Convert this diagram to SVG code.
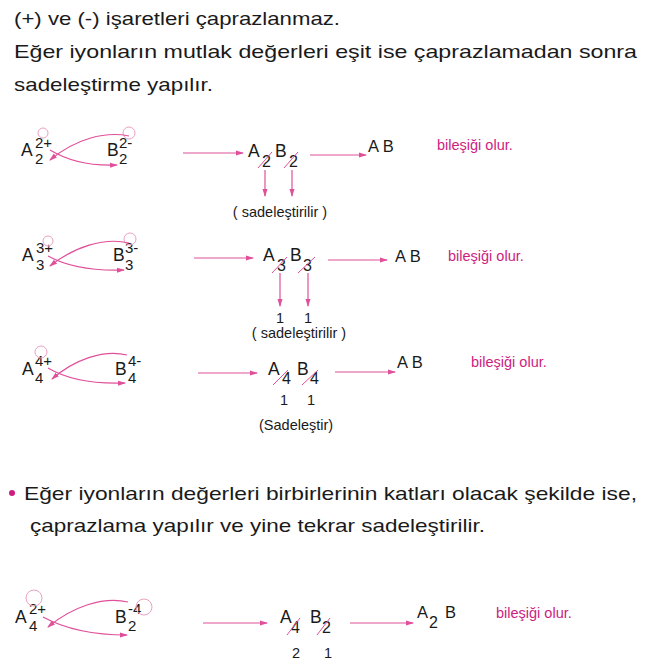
<svg xmlns="http://www.w3.org/2000/svg" width="645" height="670" viewBox="0 0 645 670">
<defs>
<marker id="ah" markerUnits="userSpaceOnUse" markerWidth="8" markerHeight="6" refX="7" refY="3" orient="auto">
<path d="M0,0.5 L8,3 L0,5.5 z" fill="#e0509a"/>
</marker>
<style>
text{font-family:"Liberation Sans",Arial,sans-serif;fill:#1a1a1a}
.h{font-size:19px}
.big{font-size:17.5px}
.s{font-size:15px}
.m{font-size:16px}
.ab{font-size:16.5px}
.n{font-size:14.5px}
.pk{font-size:14.5px;fill:#cc1d80}
.ar{stroke:#e0509a;stroke-width:1.2;fill:none;marker-end:url(#ah)}
.cr{stroke:#e0509a;stroke-width:1;fill:none}
.ci{stroke:#eaa0c4;stroke-width:1;fill:none}
</style>
</defs>
<rect width="645" height="670" fill="#ffffff"/>

<g id="header">
<text class="h" x="14" y="25" textLength="326" lengthAdjust="spacingAndGlyphs">(+) ve (-) işaretleri çaprazlanmaz.</text>
<text class="h" x="14" y="58" textLength="623" lengthAdjust="spacingAndGlyphs">Eğer iyonların mutlak değerleri eşit ise çaprazlamadan sonra</text>
<text class="h" x="14" y="91" textLength="199" lengthAdjust="spacingAndGlyphs">sadeleştirme yapılır.</text>
</g>

<g id="row1-ions">
<text class="big" x="21" y="156">A</text>
<text class="s" x="35" y="148">2+</text>
<text class="s" x="35" y="164">2</text>
<text class="big" x="107" y="156">B</text>
<text class="s" x="119" y="148">2-</text>
<text class="s" x="119" y="164">2</text>
<circle class="ci" cx="43" cy="133" r="5"/>
<circle class="ci" cx="129" cy="133" r="6"/>
</g>
<g id="row1-formula">
<text class="big" x="248" y="157">A</text>
<text class="m" x="262" y="167">2</text>
<text class="big" x="275" y="157">B</text>
<text class="m" x="289" y="167">2</text>
<text class="n" x="280" y="217" text-anchor="middle">( sadeleştirilir )</text>
</g>
<g id="row1-result">
<text class="ab" x="368" y="152">A B</text>
<text class="pk" x="437" y="150">bileşiği olur.</text>
</g>

<g id="row2-ions">
<text class="big" x="22" y="261">A</text>
<text class="s" x="36" y="253">3+</text>
<text class="s" x="36" y="270">3</text>
<text class="big" x="113" y="261">B</text>
<text class="s" x="125" y="253">3-</text>
<text class="s" x="125" y="270">3</text>
<circle class="ci" cx="48" cy="241" r="5"/>
<circle class="ci" cx="130" cy="239" r="6"/>
</g>
<g id="row2-formula">
<text class="big" x="263" y="261">A</text>
<text class="m" x="277" y="271">3</text>
<text class="big" x="290" y="261">B</text>
<text class="m" x="303" y="271">3</text>
<text class="n" x="280" y="323" text-anchor="middle">1</text>
<text class="n" x="308" y="323" text-anchor="middle">1</text>
<text class="n" x="299" y="338" text-anchor="middle">( sadeleştirilir )</text>
</g>
<g id="row2-result">
<text class="ab" x="395" y="262">A B</text>
<text class="pk" x="448" y="261">bileşiği olur.</text>
</g>

<g id="row3-ions">
<text class="big" x="22" y="375">A</text>
<text class="s" x="35" y="366">4+</text>
<text class="s" x="35" y="383">4</text>
<text class="big" x="115" y="375">B</text>
<text class="s" x="128" y="366">4-</text>
<text class="s" x="128" y="383">4</text>
<circle class="ci" cx="41" cy="352" r="6"/>
</g>
<g id="row3-formula">
<text class="big" x="268" y="375">A</text>
<text class="m" x="282" y="384">4</text>
<text class="big" x="297" y="375">B</text>
<text class="m" x="310" y="384">4</text>
<text class="n" x="284" y="405" text-anchor="middle">1</text>
<text class="n" x="311" y="405" text-anchor="middle">1</text>
<text class="n" x="259" y="430">(Sadeleştir)</text>
</g>
<g id="row3-result">
<text class="ab" x="397" y="368">A B</text>
<text class="pk" x="471" y="367">bileşiği olur.</text>
</g>

<g id="bullet">
<circle cx="12" cy="493" r="3" fill="#cc1d80"/>
<text class="h" x="24" y="500" textLength="613" lengthAdjust="spacingAndGlyphs">Eğer iyonların değerleri birbirlerinin katları olacak şekilde ise,</text>
<text class="h" x="30" y="532" textLength="455" lengthAdjust="spacingAndGlyphs">çaprazlama yapılır ve yine tekrar sadeleştirilir.</text>
</g>

<g id="row4-ions">
<text class="big" x="15" y="623">A</text>
<text class="s" x="29" y="614">2+</text>
<text class="s" x="29" y="631">4</text>
<text class="big" x="115" y="623">B</text>
<text class="s" x="128" y="614">-4</text>
<text class="s" x="128" y="631">2</text>
<circle class="ci" cx="34" cy="598" r="8"/>
<circle class="ci" cx="144" cy="607" r="8"/>
</g>
<g id="row4-formula">
<text class="big" x="280" y="623">A</text>
<text class="m" x="291" y="633">4</text>
<text class="big" x="310" y="623">B</text>
<text class="m" x="322" y="633">2</text>
<text class="n" x="296" y="658" text-anchor="middle">2</text>
<text class="n" x="328" y="658" text-anchor="middle">1</text>
</g>
<g id="row4-result">
<text class="ab" x="417" y="618">A</text>
<text class="m" x="429" y="628">2</text>
<text class="ab" x="445" y="618">B</text>
<text class="pk" x="496" y="618">bileşiği olur.</text>
</g>

<g id="connectors">
<path class="ar" d="M50,150 C70,162 95,166 117,165"/>
<path class="ar" d="M129,136 C105,131 75,139 50,160"/>
<path class="ar" d="M183,153 L243,153"/>
<path class="cr" d="M258,168 L272,152"/>
<path class="cr" d="M284,168 L298,152"/>
<path class="ar" d="M265,170 L265,196"/>
<path class="ar" d="M292,170 L292,196"/>
<path class="ar" d="M310,155 L366,155"/>
<path class="ar" d="M48,256 C70,268 97,271 124,270"/>
<path class="ar" d="M129,243 C104,237 74,247 50,266"/>
<path class="ar" d="M194,258 L253,258"/>
<path class="cr" d="M272,273 L287,257"/>
<path class="cr" d="M298,273 L315,257"/>
<path class="ar" d="M280,273 L280,306"/>
<path class="ar" d="M308,273 L308,306"/>
<path class="ar" d="M328,260 L387,260"/>
<path class="ar" d="M48,368 C70,381 97,384 125,383"/>
<path class="ar" d="M127,355 C103,349 74,360 52,379"/>
<path class="ar" d="M198,373 L257,373"/>
<path class="cr" d="M273,385 L288,370"/>
<path class="cr" d="M302,385 L318,370"/>
<path class="ar" d="M335,372 L395,372"/>
<path class="ar" d="M43,617 C67,630 97,635 127,635"/>
<path class="ar" d="M128,602 C103,596 72,607 48,627"/>
<path class="ar" d="M203,623 L267,623"/>
<path class="cr" d="M287,635 L300,618"/>
<path class="cr" d="M317,635 L330,618"/>
<path class="ar" d="M350,623 L413,623"/>
</g>
</svg>
